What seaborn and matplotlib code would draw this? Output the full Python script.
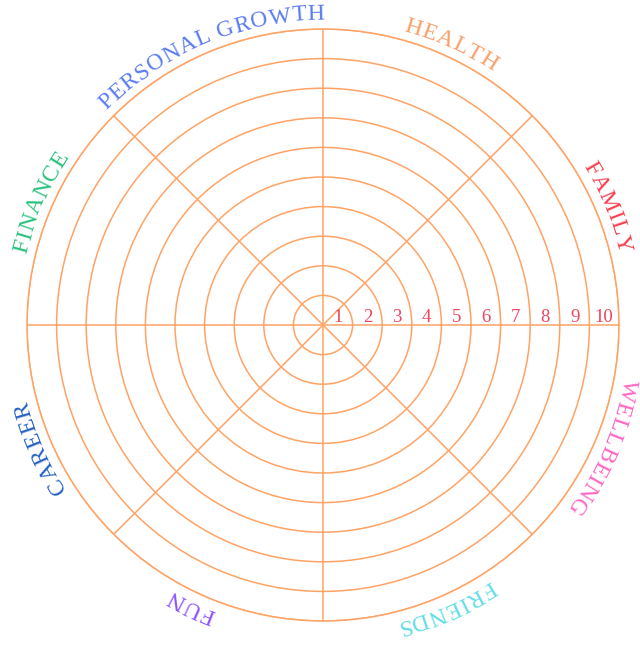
import numpy as np
import matplotlib
matplotlib.use("Agg")
import matplotlib.pyplot as plt
import seaborn as sns
from matplotlib.font_manager import FontProperties
from matplotlib.textpath import TextToPath

# wheel of life data
categories = ["FAMILY", "HEALTH", "PERSONAL GROWTH", "FINANCE",
              "CAREER", "FUN", "FRIENDS", "WELLBEING"]
category_angles = [22.5, 65.5, 112.5, 156.5, 203.5, 245.0, 293.5, 336.5]
category_colors = ["#f8404f", "#f9a06a", "#5b7cf2", "#27c27c",
                   "#2461c2", "#8c52ff", "#62dde6", "#ff66c4"]
levels = [1, 2, 3, 4, 5, 6, 7, 8, 9, 10]
level_labels = ["1", "2", "3", "4", "5", "6", "7", "8", "9", "10"]
spoke_angles = [0, 45, 90, 135, 180, 225, 270, 315]

LINE = "#ffa365"
NUM_COLOR = "#f2445e"
DPI = 100
R_PX = 296.0  # outer radius in pixels

sns.set_theme(style="white")
plt.rcParams["font.family"] = ["Liberation Serif", "DejaVu Serif"]

fig = plt.figure(figsize=(6.4, 6.45), dpi=DPI)
fig.patch.set_facecolor("white")
cx, cy = 323, 645 - 325
ax = fig.add_axes([(cx - R_PX) / 640, (cy - R_PX) / 645,
                   2 * R_PX / 640, 2 * R_PX / 645], projection="polar")
ax.set_facecolor("white")
ax.set_ylim(0, max(levels))
ax.set_rticks(levels)
ax.set_yticklabels([])
ax.set_thetagrids(spoke_angles, labels=[])
ax.grid(True, color=LINE, linewidth=1.1)
ax.spines["polar"].set_color(LINE)
ax.spines["polar"].set_linewidth(1.1)
ax.tick_params(length=0, pad=0)

# ring numbers along the horizontal spoke
for lv, lab in zip(levels, level_labels):
    ax.annotate(lab, xy=(0, lv - 0.5), xytext=(0, 2), textcoords="offset points",
                ha="center", va="baseline", color=NUM_COLOR, fontsize=13.5)

# curved category labels, read clockwise, tops facing outward
fp = FontProperties(family=["Liberation Serif"], size=17)
ttp = TextToPath()
px_per_unit = R_PX / max(levels)
r_base = 305.0 / px_per_unit
spacing = 0.8


def char_width(ch):
    if ch == " ":
        return 6.0
    w, h, d = ttp.get_text_width_height_descent(ch, fp, ismath=False)
    return w * DPI / 72.0


def curved_label(text, center_deg, color):
    widths = [char_width(c) for c in text]
    total = sum(widths) + spacing * (len(text) - 1)
    r_px = r_base * px_per_unit
    start = np.deg2rad(center_deg) + total / r_px / 2
    pos = 0.0
    for ch, w in zip(text, widths):
        ang = start - (pos + w / 2) / r_px
        pos += w + spacing
        if ch == " ":
            continue
        ax.text(ang, r_base, ch, rotation=np.rad2deg(ang) - 90,
                rotation_mode="anchor", ha="center", va="baseline",
                color=color, fontproperties=fp, clip_on=False)


for name, ang, col in zip(categories, category_angles, category_colors):
    curved_label(name, ang, col)

fig.savefig("out.png", dpi=DPI, facecolor="white")
